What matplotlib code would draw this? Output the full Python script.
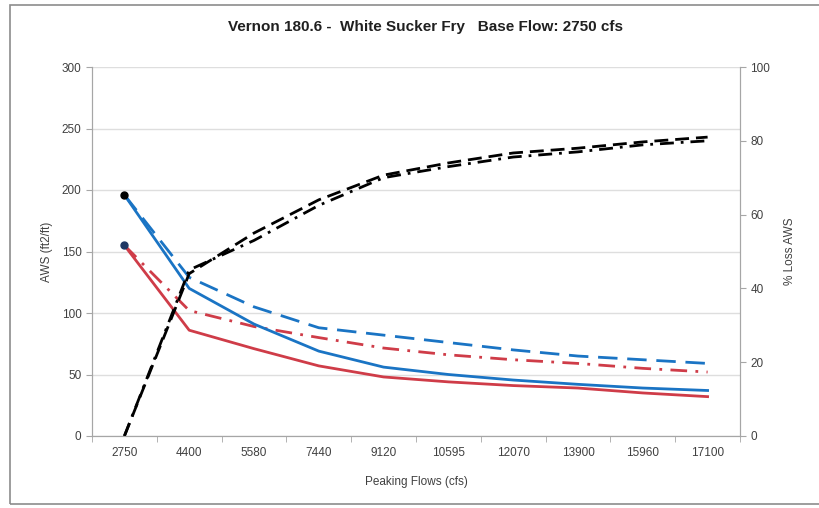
import matplotlib
matplotlib.use("Agg")
import matplotlib.pyplot as plt
import numpy as np
from matplotlib.patches import Rectangle

plt.rcParams['font.family'] = ['Liberation Sans', 'DejaVu Sans']

flows = ['2750', '4400', '5580', '7440', '9120', '10595', '12070', '13900', '15960', '17100']

# AWS (ft2/ft), left axis
blue_solid = [196, 120, 91, 69, 56, 50, 45.5, 42, 39, 37]
blue_dash = [196, 129, 105, 88, 82, 76, 70, 65, 62, 59]
red_solid = [155, 86, 71, 57, 48, 44, 41, 39, 35, 32]
red_dashdot = [155, 102, 89, 80, 71.5, 66, 62, 59, 55, 52]

# % loss AWS, right axis
loss_dash = [0, 44, 55, 64, 70.7, 74, 76.7, 78, 79.7, 81]
loss_dashdot = [0, 45, 53, 62.5, 70, 73, 75.6, 77, 78.9, 80]

x = np.arange(len(flows))

fig = plt.figure(figsize=(8.2, 5.08), dpi=100)
ax = fig.add_axes([92 / 820, 72 / 508, 648 / 820, 369 / 508])
ax2 = ax.twinx()

blue = '#1a74c4'
red = '#cf3c48'
grid = '#dedede'
spine = '#a6a6a6'

ax.plot(x, blue_dash, color=blue, lw=2, dashes=(7, 3.5))
ax.plot(x, red_dashdot, color=red, lw=2, dashes=(6, 3, 1, 3))
ax.plot(x, blue_solid, color=blue, lw=2, marker='o', ms=5, mfc='black', mec='black', markevery=[0])
ax.plot(x, red_solid, color=red, lw=2, marker='o', ms=5, mfc='#1f3864', mec='#1f3864', markevery=[0])

ax2.plot(x, loss_dash, color='black', lw=2, dashes=(5, 2.5))
ax2.plot(x, loss_dashdot, color='black', lw=2, dashes=(5, 2.5, 1, 2.5))

ax.set_xlim(-0.5, len(flows) - 0.5)
ax.set_ylim(0, 300)
ax.set_yticks(np.arange(0, 301, 50))
ax2.set_ylim(0, 100)
ax2.set_yticks(np.arange(0, 101, 20))
ax.set_xticks(x)
ax.set_xticklabels(flows)
ax.set_xticks(np.arange(-0.5, len(flows), 1), minor=True)

ax.grid(axis='y', color=grid, lw=1)
ax.set_axisbelow(True)

for a in (ax, ax2):
    for s in a.spines.values():
        s.set_color(spine)
    a.spines['top'].set_visible(False)
    a.tick_params(colors=spine, labelcolor='#404040', labelsize=8.5, length=4)
ax.tick_params(axis='x', which='major', length=0, pad=8)
ax.tick_params(axis='x', which='minor', length=4, color=spine)

ax.set_xlabel('Peaking Flows (cfs)', fontsize=8.5, color='#404040', labelpad=12)
ax.set_ylabel('AWS (ft2/ft)', fontsize=8.5, color='#404040', labelpad=6)
ax2.set_ylabel('% Loss AWS', fontsize=8.5, color='#404040', labelpad=10)

fig.text(426 / 820, 1 - 27 / 508, 'Vernon 180.6 -  White Sucker Fry   Base Flow: 2750 cfs',
         ha='center', va='center', fontsize=11, fontweight='bold', color='#202020')

fig.patches.append(Rectangle((10 / 820, 4 / 508), 815 / 820, 499 / 508, transform=fig.transFigure,
                             fill=False, edgecolor='#8c8c8c', lw=1.2))

fig.savefig('out.png', dpi=100)
